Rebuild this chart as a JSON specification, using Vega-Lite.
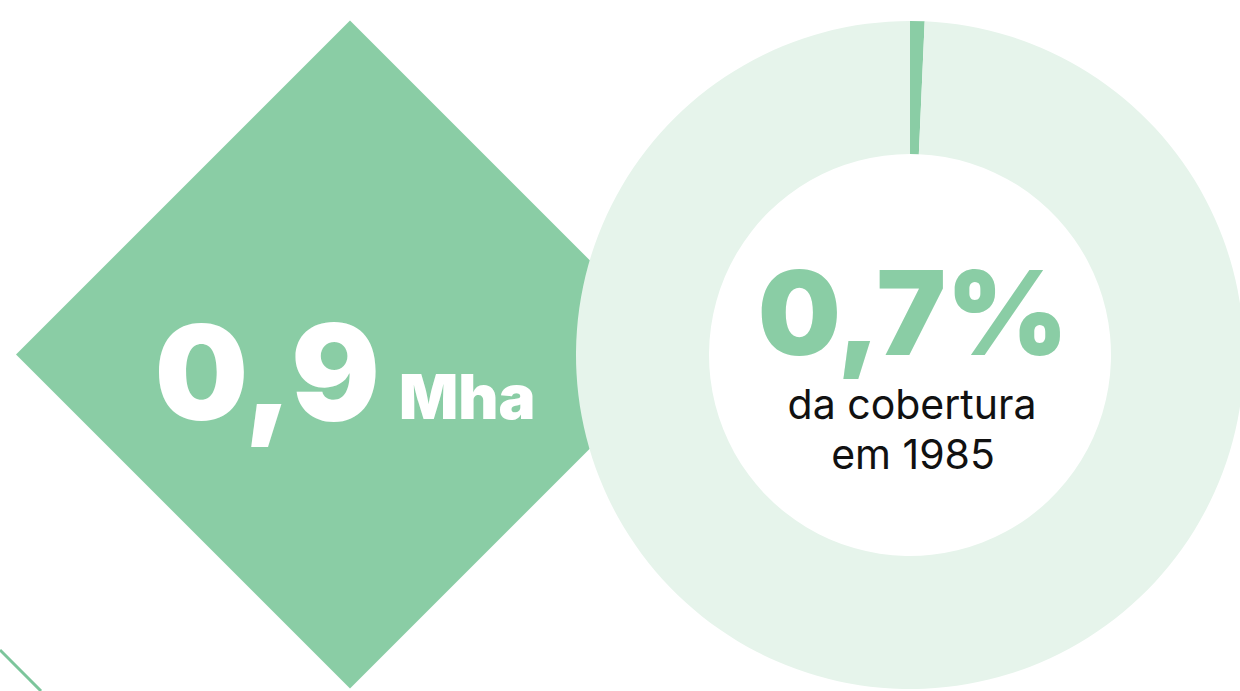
{
  "$schema": "https://vega.github.io/schema/vega-lite/v6.json",
  "width": 1240,
  "height": 691,
  "padding": 0,
  "autosize": {"type": "none"},
  "background": "#ffffff",
  "config": {"view": {"stroke": null}},
  "datasets": {
    "cobertura": [
      {"categoria": "1985", "percentual": 0.7, "ordem": 1},
      {"categoria": "restante", "percentual": 99.3, "ordem": 2}
    ],
    "area": [{"valor": "0,9", "unidade": "Mha"}],
    "pct": [{"valor": "0,7%", "linha1": "da cobertura", "linha2": "em 1985"}]
  },
  "resolve": {"scale": {"x": "shared", "y": "shared"}},
  "layer": [
    {
      "data": {"values": [{"forma": "rule"}]},
      "mark": {"type": "rule", "color": "#7cc59b", "strokeWidth": 3},
      "encoding": {
        "x": {"datum": 0, "type": "quantitative", "scale": {"domain": [0, 1240], "nice": false, "zero": false}, "axis": null},
        "y": {"datum": 650, "type": "quantitative", "scale": {"domain": [0, 691], "reverse": true, "nice": false, "zero": false}, "axis": null},
        "x2": {"datum": 41},
        "y2": {"datum": 691}
      }
    },
    {
      "data": {"name": "area"},
      "mark": {"type": "point", "shape": "diamond", "filled": true, "color": "#8acda5", "opacity": 1, "size": 446224},
      "encoding": {
        "x": {"datum": 350, "type": "quantitative"},
        "y": {"datum": 354.5, "type": "quantitative"}
      }
    },
    {
      "data": {"name": "cobertura"},
      "mark": {"type": "arc", "radius": 334, "radius2": 201},
      "encoding": {
        "x": {"datum": 910, "type": "quantitative"},
        "y": {"datum": 355, "type": "quantitative"},
        "theta": {"field": "percentual", "type": "quantitative", "stack": true},
        "order": {"field": "ordem"},
        "color": {"field": "categoria", "type": "nominal", "scale": {"domain": ["1985", "restante"], "range": ["#8acda5", "#e6f4eb"]}, "legend": null}
      }
    },
    {
      "data": {"name": "area"},
      "mark": {"type": "text", "font": "Inter", "fontWeight": 900, "fontSize": 132, "color": "#ffffff", "align": "right", "baseline": "alphabetic"},
      "encoding": {
        "x": {"datum": 380, "type": "quantitative"},
        "y": {"datum": 420, "type": "quantitative"},
        "text": {"field": "valor"}
      }
    },
    {
      "data": {"name": "area"},
      "mark": {"type": "text", "font": "Inter", "fontWeight": 900, "fontSize": 62, "color": "#ffffff", "align": "left", "baseline": "alphabetic"},
      "encoding": {
        "x": {"datum": 399, "type": "quantitative"},
        "y": {"datum": 419, "type": "quantitative"},
        "text": {"field": "unidade"}
      }
    },
    {
      "data": {"name": "pct"},
      "mark": {"type": "text", "font": "Inter", "fontWeight": 900, "fontSize": 117, "color": "#8acda5", "align": "center", "baseline": "alphabetic"},
      "encoding": {
        "x": {"datum": 913, "type": "quantitative"},
        "y": {"datum": 355, "type": "quantitative"},
        "text": {"field": "valor"}
      }
    },
    {
      "data": {"name": "pct"},
      "mark": {"type": "text", "font": "Inter", "fontWeight": 400, "fontSize": 41, "color": "#111111", "align": "center", "baseline": "alphabetic"},
      "encoding": {
        "x": {"datum": 912, "type": "quantitative"},
        "y": {"datum": 419, "type": "quantitative"},
        "text": {"field": "linha1"}
      }
    },
    {
      "data": {"name": "pct"},
      "mark": {"type": "text", "font": "Inter", "fontWeight": 400, "fontSize": 41, "color": "#111111", "align": "center", "baseline": "alphabetic"},
      "encoding": {
        "x": {"datum": 913, "type": "quantitative"},
        "y": {"datum": 469, "type": "quantitative"},
        "text": {"field": "linha2"}
      }
    }
  ]
}
